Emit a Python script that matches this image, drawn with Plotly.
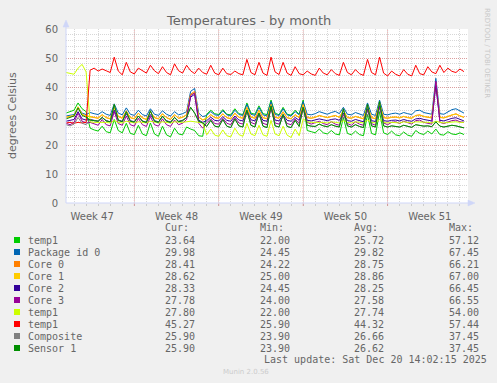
import plotly.graph_objects as go
import pandas as pd

# ---------------- data ----------------
t_start = "2025-11-17 08:00"
x_range = ["2025-11-17 08:00", "2025-12-20 16:00"]
times = pd.date_range(t_start, periods=100, freq="8h")

temp1_a = [31.0, 31.5, 32.0, 34.5, 32.5, 31.5, 25.8, 25.2, 24.8, 26.5,
           24.6, 24.2, 28.8, 25.0, 24.2, 27.5, 24.0, 23.6, 26.8, 23.8,
           23.2, 27.6, 23.8, 23.0, 26.5, 23.5, 22.8, 25.8, 23.8, 23.5,
           26.2, 25.5, 25.0, 23.2, 23.0, 30.6, 32.0, 30.8, 30.5, 32.2,
           30.6, 30.4, 32.5, 30.8, 30.5, 34.5, 31.0, 30.6, 33.5, 30.8,
           30.5, 35.5, 31.0, 30.4, 33.0, 30.6, 30.3, 32.0, 30.6, 35.5,
           25.0, 24.6, 24.2, 25.5, 24.2, 23.8, 25.0, 23.8, 23.5, 29.5,
           24.0, 23.5, 24.8, 23.6, 23.2, 30.5, 24.0, 23.5, 31.5, 24.2,
           23.6, 24.8, 23.5, 23.2, 24.5, 23.4, 23.0, 25.0, 24.0, 23.6,
           24.8, 23.8, 25.5, 23.6, 23.4, 24.6, 23.8, 23.6, 24.2, 23.6]

package_id0 = [30.0, 30.2, 30.5, 33.0, 31.0, 30.5, 31.2, 30.8, 30.5, 31.5,
               30.6, 30.2, 34.2, 31.0, 30.4, 32.8, 30.6, 30.2, 32.0, 30.5,
               30.0, 32.5, 30.6, 30.2, 31.8, 30.6, 30.0, 31.5, 30.4, 30.8,
               31.5, 38.5, 39.5, 31.0, 29.8, 30.2, 31.5, 30.4, 30.2, 31.8,
               30.4, 30.0, 32.0, 30.5, 30.2, 34.0, 30.6, 30.2, 33.0, 30.4,
               30.0, 35.0, 30.5, 30.2, 32.5, 30.4, 30.0, 31.5, 30.4, 35.0,
               30.6, 30.4, 30.8, 31.5, 31.0, 30.6, 31.2, 31.6, 30.8, 33.0,
               30.6, 30.4, 31.2, 30.6, 30.2, 34.5, 30.6, 30.2, 35.5, 30.6,
               30.4, 30.8, 31.0, 30.6, 31.2, 30.8, 30.5, 31.8, 32.0, 31.2,
               30.8, 30.6, 43.0, 30.8, 30.6, 31.4, 32.2, 32.5, 31.6, 31.0]

core0 = [29.5, 29.8, 30.0, 32.8, 30.5, 30.0, 29.8, 29.5, 29.2, 30.5,
         29.4, 29.0, 33.0, 29.8, 29.2, 31.8, 29.4, 29.0, 31.0, 29.3,
         28.8, 31.5, 29.4, 29.0, 30.8, 29.4, 28.8, 30.5, 29.2, 29.5,
         30.5, 37.5, 38.5, 29.6, 28.6, 29.2, 30.5, 29.4, 29.2, 30.8,
         29.4, 29.0, 31.0, 29.5, 29.2, 33.0, 29.6, 29.2, 32.0, 29.4,
         29.0, 34.0, 29.5, 29.2, 31.5, 29.4, 29.0, 30.5, 29.4, 34.0,
         29.4, 29.2, 29.5, 30.2, 29.8, 29.4, 29.8, 30.2, 29.5, 32.0,
         29.4, 29.2, 29.8, 29.3, 29.0, 33.5, 29.4, 29.0, 34.5, 29.4,
         29.2, 29.5, 29.6, 29.3, 29.8, 29.4, 29.2, 30.2, 30.4, 29.8,
         29.5, 29.3, 41.5, 29.5, 29.3, 29.8, 30.5, 30.8, 30.0, 29.5]

core1 = [29.6, 29.9, 30.2, 33.2, 30.6, 30.1, 29.9, 29.6, 29.3, 30.4,
         29.5, 29.1, 32.8, 29.9, 29.3, 31.6, 29.5, 29.1, 30.9, 29.4,
         28.9, 31.3, 29.5, 29.1, 30.7, 29.5, 28.9, 30.4, 29.3, 29.6,
         30.4, 37.2, 38.2, 29.7, 28.7, 29.3, 30.4, 29.5, 29.3, 30.7,
         29.5, 29.1, 30.9, 29.6, 29.3, 32.8, 29.7, 29.3, 31.8, 29.5,
         29.1, 33.8, 29.6, 29.3, 31.3, 29.5, 29.1, 30.4, 29.5, 33.8,
         29.5, 29.3, 29.6, 30.1, 29.8, 29.5, 29.9, 30.1, 29.6, 31.8,
         29.5, 29.3, 29.9, 29.4, 29.1, 33.2, 29.5, 29.1, 34.2, 29.5,
         29.3, 29.6, 29.7, 29.4, 29.9, 29.5, 29.3, 30.1, 30.3, 29.9,
         29.6, 29.4, 41.0, 29.6, 29.4, 29.9, 30.4, 30.6, 30.0, 29.6]

core2 = [28.2, 28.4, 28.8, 31.5, 29.0, 28.6, 28.8, 28.5, 28.2, 29.5,
         28.4, 28.0, 32.0, 28.6, 28.2, 30.8, 28.4, 28.0, 30.0, 28.3,
         27.8, 30.5, 28.4, 28.0, 29.8, 28.4, 27.9, 29.5, 28.2, 28.5,
         29.4, 36.5, 37.5, 28.6, 27.8, 28.4, 29.6, 28.5, 28.3, 29.8,
         28.5, 28.2, 30.0, 28.6, 28.3, 32.0, 28.7, 28.3, 31.0, 28.5,
         28.2, 33.0, 28.6, 28.3, 30.5, 28.5, 28.2, 29.5, 28.5, 33.0,
         28.5, 28.3, 28.6, 29.0, 28.7, 28.4, 28.8, 29.0, 28.5, 31.0,
         28.4, 28.2, 28.8, 28.3, 28.0, 32.5, 28.4, 28.1, 33.5, 28.4,
         28.2, 28.5, 28.6, 28.3, 28.8, 28.4, 28.2, 29.0, 29.2, 28.8,
         28.5, 28.3, 40.5, 28.5, 28.3, 28.8, 29.2, 29.4, 28.8, 28.3]

core3 = [27.5, 27.0, 27.8, 31.0, 28.2, 27.6, 27.8, 27.2, 26.8, 28.8,
         27.0, 26.6, 31.5, 27.4, 26.8, 30.0, 27.0, 26.5, 29.2, 27.0,
         26.4, 29.8, 27.0, 26.5, 29.0, 27.0, 26.4, 28.6, 27.0, 27.5,
         28.8, 37.0, 38.0, 27.5, 25.8, 27.6, 29.0, 27.4, 27.2, 29.2,
         27.5, 27.0, 29.5, 27.6, 27.2, 31.5, 27.8, 27.2, 30.5, 27.5,
         27.0, 32.5, 27.6, 27.2, 30.0, 27.4, 27.0, 29.0, 27.4, 32.5,
         27.8, 27.2, 27.6, 28.2, 27.4, 27.0, 28.0, 27.2, 26.8, 30.5,
         27.4, 26.8, 28.0, 27.2, 26.8, 32.0, 27.4, 26.8, 33.0, 27.6,
         27.0, 27.8, 28.0, 27.4, 28.2, 27.6, 27.2, 28.4, 28.6, 27.8,
         27.6, 27.2, 42.0, 27.8, 27.4, 28.0, 28.4, 28.6, 28.0, 27.8]

temp1_b = [45.0, 44.8, 44.4, 46.5, 47.8, 45.2, 28.0, 27.8, 27.8, 28.0,
           27.8, 27.6, 28.4, 27.8, 27.6, 28.2, 27.8, 27.6, 28.0, 27.8,
           27.6, 28.2, 27.8, 27.6, 28.0, 27.8, 27.6, 28.0, 27.8, 27.8,
           28.0, 28.2, 28.0, 27.8, 27.6, 23.5, 25.5, 23.4, 23.0, 25.2,
           23.2, 22.8, 25.8, 23.6, 23.0, 27.5, 23.8, 23.2, 26.8, 23.5,
           23.0, 28.5, 23.8, 23.2, 26.5, 23.4, 22.6, 25.5, 23.2, 29.0,
           28.0, 27.8, 27.8, 28.0, 27.8, 27.6, 28.0, 27.8, 27.6, 28.4,
           27.8, 27.6, 28.0, 27.8, 27.6, 28.6, 27.8, 27.6, 28.8, 27.8,
           27.6, 27.8, 27.8, 27.6, 28.0, 27.8, 27.6, 28.0, 28.0, 27.8,
           27.8, 27.6, 28.2, 27.8, 27.6, 27.8, 28.0, 28.0, 27.8, 27.8]

temp1_c = [27.6, 27.8, 27.5, 27.8, 27.6, 27.8, 45.8, 46.5, 45.5, 46.2,
           45.6, 45.0, 50.3, 45.5, 44.2, 48.5, 45.2, 44.5, 46.5, 45.5,
           44.8, 47.5, 45.6, 44.6, 47.0, 45.0, 44.2, 48.0, 45.6, 44.8,
           47.5, 45.6, 44.6, 46.5, 45.0, 44.4, 47.5, 44.8, 44.2, 46.5,
           44.6, 44.3, 45.5, 44.6, 44.2, 49.5, 45.0, 44.2, 48.5, 44.8,
           44.0, 50.3, 45.2, 44.3, 48.5, 44.8, 44.0, 47.0, 44.6, 44.2,
           45.5, 44.5, 44.0, 46.5, 44.8, 44.2, 46.0, 44.6, 44.0, 48.5,
           45.0, 44.2, 46.0, 44.6, 44.0, 49.5, 45.0, 44.2, 50.3, 44.8,
           43.8, 45.5, 44.4, 43.8, 46.0, 44.4, 43.8, 47.5, 44.6, 44.2,
           47.0, 45.2, 44.6, 47.5, 45.0, 46.5, 45.4, 45.0, 46.2, 45.3]

composite = [27.0, 26.6, 27.2, 29.5, 27.5, 27.0, 28.6, 28.4, 28.2, 29.5,
             28.3, 28.0, 34.0, 28.5, 28.0, 31.5, 28.2, 27.9, 30.0, 28.2,
             27.8, 31.8, 28.2, 27.8, 30.0, 28.2, 27.8, 29.5, 28.0, 28.4,
             29.5, 33.0, 31.0, 28.2, 27.6, 26.4, 28.5, 26.5, 26.2, 28.8,
             26.5, 26.0, 29.0, 26.6, 26.2, 32.0, 26.8, 26.2, 31.0, 26.5,
             26.0, 33.5, 26.6, 26.2, 30.5, 26.4, 26.0, 28.5, 26.4, 33.0,
             26.8, 26.5, 26.4, 27.2, 26.6, 26.3, 27.0, 26.5, 26.2, 32.5,
             26.6, 26.2, 27.0, 26.4, 26.0, 34.0, 26.6, 26.2, 35.0, 26.6,
             26.2, 26.6, 26.5, 26.2, 26.8, 26.4, 26.1, 27.0, 26.8, 26.5,
             26.6, 26.3, 28.0, 26.5, 26.2, 26.6, 26.8, 26.6, 26.2, 25.9]

sensor1 = [29.0, 29.4, 30.0, 32.8, 30.2, 29.6, 28.6, 28.4, 28.2, 29.5,
           28.3, 28.0, 34.0, 28.5, 28.0, 31.5, 28.2, 27.9, 30.0, 28.2,
           27.8, 31.8, 28.2, 27.8, 30.0, 28.2, 27.8, 29.5, 28.0, 28.4,
           29.5, 33.0, 31.0, 28.2, 27.6, 26.4, 28.5, 26.5, 26.2, 28.8,
           26.5, 26.0, 29.0, 26.6, 26.2, 32.0, 26.8, 26.2, 31.0, 26.5,
           26.0, 33.5, 26.6, 26.2, 30.5, 26.4, 26.0, 28.5, 26.4, 33.0,
           26.8, 26.5, 26.4, 27.2, 26.6, 26.3, 27.0, 26.5, 26.2, 32.5,
           26.6, 26.2, 27.0, 26.4, 26.0, 34.0, 26.6, 26.2, 35.0, 26.6,
           26.2, 26.6, 26.5, 26.2, 26.8, 26.4, 26.1, 27.0, 26.8, 26.5,
           26.6, 26.3, 28.0, 26.5, 26.2, 26.6, 26.8, 26.6, 26.2, 25.9]

series_names = ["temp1", "Package id 0", "Core 0", "Core 1", "Core 2",
                "Core 3", "temp1", "temp1", "Composite", "Sensor 1"]
series_values = [temp1_a, package_id0, core0, core1, core2, core3,
                 temp1_b, temp1_c, composite, sensor1]
series_colors = ["#00CC00", "#0066B3", "#FF8000", "#FFCC00", "#330099",
                 "#990099", "#CCFF00", "#FF0000", "#808080", "#008F00"]

cur_vals = [23.64, 29.98, 28.41, 28.62, 28.33, 27.78, 27.80, 45.27, 25.90, 25.90]
min_vals = [22.00, 24.45, 24.22, 25.00, 24.45, 24.00, 22.00, 25.90, 23.90, 23.90]
avg_vals = [25.72, 29.82, 28.75, 28.86, 28.25, 27.58, 27.74, 44.32, 26.66, 26.62]
max_vals = [57.12, 67.45, 66.21, 67.00, 66.45, 66.55, 54.00, 57.44, 37.45, 37.45]

week_label_times = ["2025-11-19 12:00", "2025-11-26 12:00", "2025-12-03 12:00",
                    "2025-12-10 12:00", "2025-12-17 12:00"]
week_labels = ["Week 47", "Week 48", "Week 49", "Week 50", "Week 51"]
week_grid_times = ["2025-11-23", "2025-11-30", "2025-12-07", "2025-12-14"]
y_ticks = [0, 10, 20, 30, 40, 50, 60]

title_text = "Temperatures - by month"
y_title = "degrees Celsius"
last_update = "Last update: Sat Dec 20 14:02:15 2025"
version_text = "Munin 2.0.56"
side_text = "RRDTOOL / TOBI OETIKER"

# ---------------- layout helpers ----------------
W, H = 497, 383
L, R, T, B = 66, 29, 29, 180
PW, PH = W - L - R, H - T - B


def px(x):
    return (x - L) / PW


def py(y):
    return (H - B - y) / PH


FONT = "DejaVu Sans"
MONO = "DejaVu Sans Mono"
TXT = "#666666"
MGRID = "rgba(222,79,79,0.42)"
GRID = "rgba(150,150,150,0.38)"
AXIS = "#CFD6F8"

fig = go.Figure()
for name, vals, col in zip(series_names, series_values, series_colors):
    fig.add_trace(go.Scatter(x=times, y=vals, mode="lines", name=name,
                             line=dict(color=col, width=1),
                             showlegend=False, hoverinfo="skip"))

shapes = []
# week major grid lines + red ticks
for t in week_grid_times:
    shapes.append(dict(type="line", xref="x", yref="paper", x0=t, x1=t, y0=0, y1=1,
                       line=dict(color=MGRID, width=1, dash="1px,1px"), layer="between"))
    shapes.append(dict(type="line", xref="x", yref="paper", x0=t, x1=t, y0=0, y1=-3 / PH,
                       line=dict(color=MGRID, width=1), layer="above"))
# axes with arrows
shapes.append(dict(type="line", xref="paper", yref="paper", x0=0, x1=0,
                   y0=0, y1=py(24), line=dict(color=AXIS, width=1), layer="above"))
shapes.append(dict(type="path", xref="paper", yref="paper",
                   path=f"M {px(63)},{py(27)} L {px(69)},{py(27)} L {px(66)},{py(20)} Z",
                   fillcolor=AXIS, line=dict(color=AXIS, width=0.5), layer="above"))
shapes.append(dict(type="line", xref="paper", yref="paper", x0=0, x1=px(471),
                   y0=0, y1=0, line=dict(color=AXIS, width=1), layer="above"))
shapes.append(dict(type="path", xref="paper", yref="paper",
                   path=f"M {px(468)},{py(200)} L {px(468)},{py(206)} L {px(475)},{py(203)} Z",
                   fillcolor=AXIS, line=dict(color=AXIS, width=0.5), layer="above"))

annotations = []


def txt(x, y, s, size=10, family=MONO, color=TXT, xanchor="left", angle=0):
    annotations.append(dict(x=px(x), y=py(y), xref="paper", yref="paper", text=s,
                            showarrow=False, xanchor=xanchor, yanchor="middle",
                            textangle=angle,
                            font=dict(family=family, size=size, color=color)))


txt(248.5, 20, title_text, size=13, family=FONT, xanchor="center")
txt(12, 116, y_title, size=11, family=FONT, xanchor="center", angle=-90)
txt(487, 53, side_text, size=7, family=FONT, color="#C8C8C8", xanchor="center", angle=90)

col_x = [163, 258, 352, 447]
for hx, h in zip(col_x, ["Cur:", "Min:", "Avg:", "Max:"]):
    txt(hx, 227, h)

for j, (name, col) in enumerate(zip(series_names, series_colors)):
    ry = 240 + 12 * j
    shapes.append(dict(type="rect", xref="paper", yref="paper",
                       x0=px(14), x1=px(20), y0=py(ry + 3), y1=py(ry - 3),
                       fillcolor=col, line=dict(width=0), layer="above"))
    txt(26, ry, name)
    for cx, arr in zip(col_x, [cur_vals, min_vals, avg_vals, max_vals]):
        txt(cx, ry, f"{arr[j]:.2f}")

txt(262, 359, last_update)
txt(246, 372, version_text, size=7, family=FONT, color="#CCCCCC", xanchor="center")

fig.update_layout(
    width=W, height=H,
    margin=dict(l=L, r=R, t=T, b=B, pad=0),
    paper_bgcolor="#F0F0F0", plot_bgcolor="#FFFFFF",
    showlegend=False,
    shapes=shapes, annotations=annotations,
    xaxis=dict(type="date", range=x_range, tickmode="array",
               tickvals=week_label_times, ticktext=week_labels,
               showgrid=False, zeroline=False, showline=False,
               ticks="outside", ticklen=4, tickcolor="rgba(0,0,0,0)",
               tickfont=dict(family=FONT, size=10, color=TXT),
               minor=dict(dtick=86400000, tick0="2025-11-16", showgrid=True,
                          gridcolor=GRID, griddash="1px,1px", gridwidth=1,
                          ticks="outside", ticklen=2, tickcolor="rgba(150,150,150,0.4)")),
    yaxis=dict(range=[0, 60], tickmode="array", tickvals=y_ticks,
               showgrid=True, gridcolor=MGRID, griddash="1px,1px", gridwidth=1,
               zeroline=False, showline=False,
               ticks="outside", ticklen=5, tickcolor="rgba(0,0,0,0)",
               tickfont=dict(family=FONT, size=10, color=TXT),
               minor=dict(dtick=2, showgrid=True, gridcolor=GRID,
                          griddash="1px,1px", gridwidth=1)),
)

fig.write_html("out.html", config={"displayModeBar": False})
